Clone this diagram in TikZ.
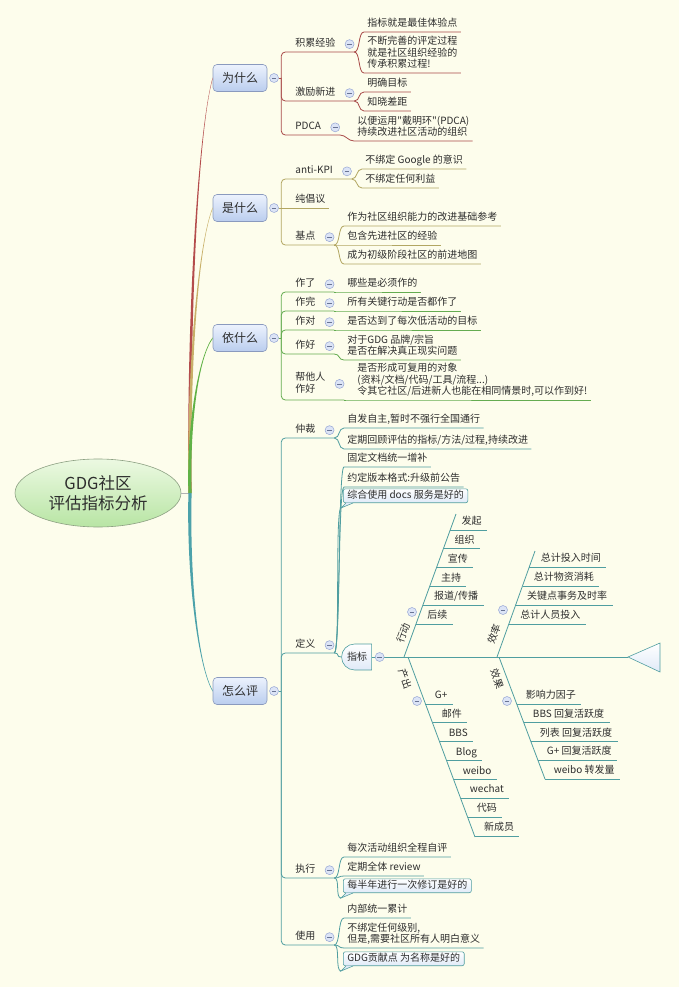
\documentclass[tikz,border=0pt]{standalone}
\usepackage{fontspec}
\setmainfont{Noto Sans CJK SC}[Ligatures=TeXOff]
\usetikzlibrary{shapes.geometric, shapes.misc, positioning, calc}

\definecolor{paper}{RGB}{253,253,236}
\definecolor{ink}{RGB}{45,45,45}
\definecolor{whyc}{RGB}{168,74,72}
\definecolor{whatc}{RGB}{178,166,98}
\definecolor{basec}{RGB}{100,172,80}
\definecolor{howc}{RGB}{80,158,160}
\definecolor{limbred}{RGB}{180,76,76}
\definecolor{limbolive}{RGB}{200,176,104}
\definecolor{limbgreen}{RGB}{96,178,70}
\definecolor{limbteal}{RGB}{76,162,170}
\definecolor{topictop}{RGB}{236,242,253}
\definecolor{topicbot}{RGB}{186,205,238}
\definecolor{topicrim}{RGB}{138,154,190}
\definecolor{foldfill}{RGB}{220,228,246}
\definecolor{foldrim}{RGB}{150,166,212}
\definecolor{roottop}{RGB}{236,249,226}
\definecolor{rootbot}{RGB}{184,229,164}
\definecolor{rootrim}{RGB}{140,160,130}
\definecolor{notebot}{RGB}{224,234,248}

% tapered main branch: colour, topic node, 1 = upward / -1 = downward
\newcommand\limb[3]{%
  \fill[#1] ($(root)+(-1.6,0)$)
    .. controls ($(root)!.45!(root |- #2.west)+(-3.6,0)$) and ($(#2.west)!.12!(#2.west |- root)+(-14,{-0.7*(#3)})$)
    .. ($(#2.west)+(0,{-0.7*(#3)})$)
    -- ($(#2.west)+(0,{0.7*(#3)})$)
    .. controls ($(#2.west)!.12!(#2.west |- root)+(-14,{0.7*(#3)})$) and ($(root)!.45!(root |- #2.west)+(-0.4,0)$)
    .. ($(root)+(1.6,0)$) -- cycle;}

\begin{document}
\begin{tikzpicture}[x=1pt, y=-1pt, line width=0.8pt,
    font=\fontsize{10}{11.5}\selectfont, text=ink,
    topic/.style={draw=topicrim, line width=0.6pt, rounded corners=4pt, minimum width=54pt, minimum height=27pt,
      top color=topictop, bottom color=topicbot, font=\fontsize{12}{14}\selectfont},
    fold/.style={circle, draw=foldrim, fill=foldfill, line width=0.5pt, minimum size=9pt, inner sep=0pt,
      path picture={\draw[foldrim!70!black, line width=0.6pt] ([xshift=-2.3pt]path picture bounding box.center) -- ([xshift=2.3pt]path picture bounding box.center);}},
    lab/.style={anchor=south west, inner xsep=3pt, inner ysep=1.5pt, align=left, execute at end node=\strut},
    rib/.style={lab, inner xsep=5pt},
    bone/.style={inner sep=0pt},
    note/.style={draw=howc, line width=0.6pt, rounded corners=2pt, top color=white, bottom color=notebot,
      anchor=south west, inner xsep=4pt, inner ysep=1pt, execute at end node=\strut},
    br/.style={rounded corners=4pt},
    curl/.style={to path={.. controls +(6,0) and +(-6,0) .. (\tikztotarget)}},
    lwhy/.style={draw=whyc}, lwhat/.style={draw=whatc}, lbase/.style={draw=basec}, lhow/.style={draw=howc}
  ]
  \fill[paper] (0,0) rectangle (679,987);
  \useasboundingbox (0,0) rectangle (679,987);

  % centre and main topics
  \node[ellipse, draw=rootrim, line width=0.6pt, top color=roottop, bottom color=rootbot,
    minimum width=166pt, minimum height=68pt, align=center, font=\fontsize{16.5}{20}\selectfont] (gdg) at (98,493) {GDG社区\\评估指标分析};
  \coordinate (root) at (190,493);
  \node[topic] (why) at (240,78) {为什么};
  \node[topic] (what) at (240,208) {是什么};
  \node[topic] (base) at (240,338) {依什么};
  \node[topic] (how) at (240,691) {怎么评};

  \draw[gray!60] (gdg.east) -- (root);
  \limb{limbred}{why}{1}
  \limb{limbolive}{what}{1}
  \limb{limbgreen}{base}{1}
  \limb{limbteal}{how}{-1}

  \foreach \t/\c in {why/whyc, what/whatc, base/basec, how/howc} {
    \node[fold, right=2pt of \t] (\t-f) {};
    \coordinate (\t-T) at ([xshift=2.5pt]\t-f.east);
    \draw[\c] (\t-f.east) -- (\t-T);
  }

  % 为什么
  \node[lab] (w1) at (292,52) {积累经验};
  \node[lab] (w2) at (292,101) {激励新进};
  \node[lab] (w3) at (292,135) {PDCA};
  \foreach \n in {w1,w2,w3} \node[fold, right=6pt of \n] (\n-f) {};
  \node[lab] (w1a) at (364,32) {指标就是最佳体验点};
  \node[lab] (w1b) at (364,73) {不断完善的评定过程\\就是社区组织经验的\\传承积累过程!};
  \node[lab] (w2a) at (364,92) {明确目标};
  \node[lab] (w2b) at (364,111) {知晓差距};
  \node[lab] (w3a) at (354,141) {以便运用"戴明环"(PDCA)\\持续改进社区活动的组织};
  \foreach \n in {w1,w2,w3} \draw[lwhy, br] (why-T) |- (\n-f.east |- \n.south);
  \foreach \p/\c in {w1/w1a, w1/w1b, w2/w2a, w2/w2b, w3/w3a}
    \draw[lwhy] (\p-f.east |- \p.south) to[curl] (\c.south west) -- (\c.south east);

  % 是什么
  \node[lab] (s1) at (292,179) {anti-KPI};
  \node[lab] (s2) at (292,208) {纯倡议};
  \node[lab] (s3) at (292,245) {基点};
  \foreach \n in {s1,s3} \node[fold, right=6pt of \n] (\n-f) {};
  \node[lab] (s1a) at (362,169) {不绑定 Google 的意识};
  \node[lab] (s1b) at (362,188) {不绑定任何利益};
  \node[lab] (s3a) at (344,226) {作为社区组织能力的改进基础参考};
  \node[lab] (s3b) at (344,245) {包含先进社区的经验};
  \node[lab] (s3c) at (344,264) {成为初级阶段社区的前进地图};
  \foreach \n in {s1,s3} \draw[lwhat, br] (what-T) |- (\n-f.east |- \n.south);
  \draw[lwhat] (what-T) -- (s2.south east);
  \foreach \p/\c in {s1/s1a, s1/s1b, s3/s3a, s3/s3b, s3/s3c}
    \draw[lwhat] (\p-f.east |- \p.south) to[curl] (\c.south west) -- (\c.south east);

  % 依什么
  \node[lab] (b1) at (292,292) {作了};
  \node[lab] (b2) at (292,311) {作完};
  \node[lab] (b3) at (292,330) {作对};
  \node[lab] (b4) at (292,354) {作好};
  \node[lab, inner ysep=4pt] (b5) at (292,400) {帮他人\\作好};
  \foreach \n in {b1,b2,b3,b4,b5} \node[fold, right=6pt of \n] (\n-f) {};
  \node[lab] (b1a) at (344,292) {哪些是必须作的};
  \node[lab] (b2a) at (344,311) {所有关键行动是否都作了};
  \node[lab] (b3a) at (344,330) {是否达到了每次低活动的目标};
  \node[lab] (b4a) at (344,360) {对于GDG 品牌/宗旨\\是否在解决真正现实问题};
  \node[lab] (b5a) at (354,400) {是否形成可复用的对象\\(资料/文档/代码/工具/流程...)\\令其它社区/后进新人也能在相同情景时,可以作到好!};
  \foreach \n in {b1,b2,b3,b4,b5} \draw[lbase, br] (base-T) |- (\n-f.east |- \n.south);
  \foreach \n in {b1,b2,b3,b4,b5}
    \draw[lbase] (\n-f.east |- \n.south) to[curl] (\n a.south west) -- (\n a.south east);

  % 怎么评
  \node[lab] (h1) at (292,438) {仲裁};
  \node[lab] (h2) at (292,653) {定义};
  \node[lab] (h3) at (292,878) {执行};
  \node[lab] (h4) at (292,945) {使用};
  \foreach \n in {h1,h2,h3,h4} \node[fold, right=6pt of \n] (\n-f) {};
  \node[lab] (h1a) at (344,428) {自发自主,暂时不强行全国通行};
  \node[lab] (h1b) at (344,449) {定期回顾评估的指标/方法/过程,持续改进};
  \node[lab] (h2a) at (344,467) {固定文档统一增补};
  \node[lab] (h2b) at (344,487) {约定版本格式:升级前公告};
  \node[note] (h2c) at (343,503) {综合使用 docs 服务是好的};
  \node[lab] (h3a) at (344,857) {每次活动组织全程自评};
  \node[lab] (h3b) at (344,876) {定期全体 review};
  \node[note] (h3c) at (343,893) {每半年进行一次修订是好的};
  \node[lab] (h4a) at (344,918) {内部统一累计};
  \node[lab] (h4b) at (344,948) {不绑定任何级别,\\但是,需要社区所有人明白意义};
  \node[note] (h4c) at (343,966) {GDG贡献点 为名称是好的};
  \foreach \n in {h2c,h3c,h4c} {
    \coordinate (\n-t) at ([shift={(-2,5)}]\n.south west);
    \fill[notebot] ([shift={(3,-0.4)}]\n.south west) -- (\n-t) -- ([shift={(10,-0.4)}]\n.south west) -- cycle;
    \draw[howc, line width=0.6pt] ([xshift=3pt]\n.south west) -- (\n-t) -- ([xshift=10pt]\n.south west);
  }
  \foreach \n in {h1,h2,h3,h4} \draw[lhow, br] (how-T) |- (\n-f.east |- \n.south);
  \foreach \p/\c in {h1/h1a, h1/h1b, h2/h2a, h2/h2b, h3/h3a, h3/h3b, h4/h4a, h4/h4b}
    \draw[lhow] (\p-f.east |- \p.south) to[curl] (\c.south west) -- (\c.south east);
  \foreach \p/\c in {h2/h2c, h3/h3c, h4/h4c}
    \draw[lhow] (\p-f.east |- \p.south) to[curl] (\c-t);

  % fishbone of 指标
  \node[rounded rectangle, rounded rectangle right arc=none, draw=howc, line width=0.6pt, top color=white,
    bottom color=notebot, minimum width=30pt, minimum height=26pt, inner sep=0pt] (metric) at (357,657) {指标};
  \draw[lhow] (h2-f.east |- h2.south) to[curl] (metric.west);
  \coordinate (tip) at (628,657);
  \draw[lhow] (metric.east) -- (tip);
  \draw[howc, line width=0.6pt, top color=white, bottom color=notebot] (tip) -- (660,643) -- (660,672) -- cycle;
  \node[fold, right=3pt of metric] (metric-f) {};

  \coordinate (act-a) at (404,657); \coordinate (act-b) at (456,514);
  \coordinate (eff-a) at (497,657); \coordinate (eff-b) at (535,551);
  \coordinate (out-a) at (408,657); \coordinate (out-b) at (475,837);
  \coordinate (res-a) at (499,657); \coordinate (res-b) at (545,779);
  \foreach \b in {act,eff,out,res} \draw[lhow] (\b-a) -- (\b-b);

  \foreach \t [count=\i] in {发起,组织,宣传,主持,{报道/传播},后续} {
    \pgfmathsetmacro\yy{530+18.8*(\i-1)}
    \pgfmathsetmacro\xx{404+(657-\yy)*0.3636}
    \coordinate (act\i) at (\xx,\yy);
    \node[rib] (act\i-l) at (\xx+6,\yy) {\t};
    \draw[lhow] (act\i) -- (act\i-l.south east);
  }
  \foreach \t [count=\i] in {总计投入时间,总计物资消耗,关键点事务及时率,总计人员投入} {
    \pgfmathsetmacro\yy{567+19*(\i-1)}
    \pgfmathsetmacro\xx{497+(657-\yy)*0.36}
    \coordinate (eff\i) at (\xx,\yy);
    \node[rib] (eff\i-l) at (\xx+6,\yy) {\t};
    \draw[lhow] (eff\i) -- (eff\i-l.south east);
  }
  \foreach \t [count=\i] in {G+,邮件,BBS,Blog,weibo,wechat,代码,新成员} {
    \pgfmathsetmacro\yy{704+18.86*(\i-1)}
    \pgfmathsetmacro\xx{408+(\yy-657)*0.372}
    \coordinate (out\i) at (\xx,\yy);
    \node[rib] (out\i-l) at (\xx+4,\yy) {\t};
    \draw[lhow] (out\i) -- (out\i-l.south east);
  }
  \foreach \t [count=\i] in {影响力因子,BBS 回复活跃度,列表 回复活跃度,G+ 回复活跃度,weibo 转发量} {
    \pgfmathsetmacro\yy{704+18.75*(\i-1)}
    \pgfmathsetmacro\xx{499+(\yy-657)*0.373}
    \coordinate (res\i) at (\xx,\yy);
    \node[rib] (res\i-l) at (\xx+4,\yy) {\t};
    \draw[lhow] (res\i) -- (res\i-l.south east);
  }

  \node[bone, rotate=70] (act) at (403,633) {行动};
  \node[bone, rotate=70] (eff) at (494,634) {效率};
  \node[bone, rotate=-70] (out) at (405,679) {产出};
  \node[bone, rotate=-70] (res) at (497,679) {效果};
  \node[fold] (act-f) at (412,612) {};
  \node[fold] (eff-f) at (503,610) {};
  \node[fold] (out-f) at (417,701) {};
  \node[fold] (res-f) at (507,701) {};
\end{tikzpicture}
\end{document}
